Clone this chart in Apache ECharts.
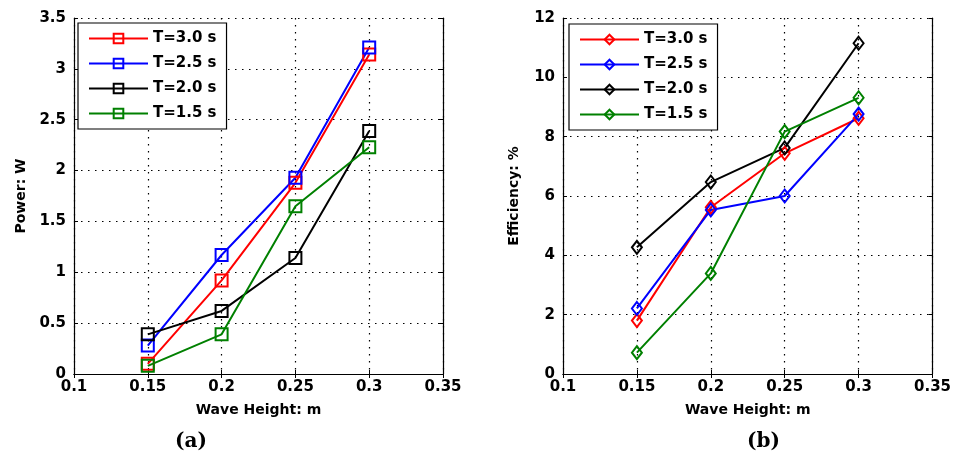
<!DOCTYPE html>
<html>
<head>
<meta charset="utf-8">
<script src="https://cdn.jsdelivr.net/npm/echarts@6/dist/echarts.min.js"></script>
<style>
html,body{margin:0;padding:0;background:#fff;}
#chart{width:954px;height:460px;}
</style>
</head>
<body>
<div id="chart"></div>
<script>
// ---- data ----
var waveHeights = [0.15, 0.2, 0.25, 0.3];
var seriesNames = ['T=3.0 s', 'T=2.5 s', 'T=2.0 s', 'T=1.5 s'];
var powerT30 = [0.10, 0.92, 1.88, 3.14];
var powerT25 = [0.28, 1.17, 1.93, 3.21];
var powerT20 = [0.39, 0.62, 1.14, 2.39];
var powerT15 = [0.08, 0.39, 1.65, 2.23];
var effT30 = [1.80, 5.62, 7.44, 8.62];
var effT25 = [2.21, 5.53, 6.00, 8.76];
var effT20 = [4.27, 6.47, 7.62, 11.15];
var effT15 = [0.72, 3.39, 8.17, 9.31];
var xTicks = [0.1, 0.15, 0.2, 0.25, 0.3, 0.35];
var powerTicks = [0, 0.5, 1, 1.5, 2, 2.5, 3, 3.5];
var effTicks = [0, 2, 4, 6, 8, 10, 12];

var colors = ['#ff0000', '#0000ff', '#000000', '#008000'];
var FONT = 'DejaVu Sans';
var PREFIX_B = 'b|';

function pairs(ys) { return waveHeights.map(function (x, i) { return [x, ys[i]]; }); }
function fmt(v) { return String(parseFloat(v.toFixed(2))); }

function mainX(gi) {
  return {
    type: 'value', gridIndex: gi, position: 'bottom',
    min: xTicks[0], max: xTicks[xTicks.length - 1], interval: 0.05,
    name: 'Wave Height: m', nameLocation: 'middle', nameGap: 29,
    nameTextStyle: { fontFamily: FONT, fontWeight: 'bold', fontSize: 14, color: '#000' },
    axisLine: { show: true, lineStyle: { color: '#000', width: 1.2 } },
    axisTick: { show: true, inside: true, length: 4, lineStyle: { color: '#000' } },
    axisLabel: { fontFamily: FONT, fontWeight: 'bold', fontSize: 15, color: '#000', margin: 6, formatter: fmt },
    splitLine: { show: true, lineStyle: { color: '#000', width: 1.2, type: [1.5, 5.5] } }
  };
}
function topX(gi) {
  return {
    type: 'value', gridIndex: gi, position: 'top',
    min: xTicks[0], max: xTicks[xTicks.length - 1], interval: 0.05,
    axisLine: { show: true, lineStyle: { color: '#000', width: 1.2 } },
    axisTick: { show: true, inside: true, length: 4, lineStyle: { color: '#000' } },
    axisLabel: { show: false }, splitLine: { show: false }
  };
}
function mainY(gi, ticks, interval, name, gap) {
  return {
    type: 'value', gridIndex: gi, position: 'left',
    min: ticks[0], max: ticks[ticks.length - 1], interval: interval,
    name: name, nameLocation: 'middle', nameGap: gap, nameRotate: 90,
    nameTextStyle: { fontFamily: FONT, fontWeight: 'bold', fontSize: 14, color: '#000' },
    axisLine: { show: true, lineStyle: { color: '#000', width: 1.2 } },
    axisTick: { show: true, inside: true, length: 4, lineStyle: { color: '#000' } },
    axisLabel: { fontFamily: FONT, fontWeight: 'bold', fontSize: 15, color: '#000', margin: 8, formatter: fmt },
    splitLine: { show: true, lineStyle: { color: '#000', width: 1.2, type: [1.5, 5.5] } }
  };
}
function rightY(gi, ticks, interval) {
  return {
    type: 'value', gridIndex: gi, position: 'right',
    min: ticks[0], max: ticks[ticks.length - 1], interval: interval,
    axisLine: { show: true, lineStyle: { color: '#000', width: 1.2 } },
    axisTick: { show: true, inside: true, length: 4, lineStyle: { color: '#000' } },
    axisLabel: { show: false }, splitLine: { show: false }
  };
}

function mkSeries(name, ys, ci, xi, yi, symbol, size) {
  return {
    type: 'line', name: name, xAxisIndex: xi, yAxisIndex: yi,
    data: pairs(ys), symbol: symbol, symbolSize: size, showSymbol: true,
    lineStyle: { color: colors[ci], width: 2 },
    itemStyle: { color: 'rgba(255,255,255,0)', borderColor: colors[ci], borderWidth: 2 },
    emphasis: { disabled: true }, animation: false
  };
}

var powerData = [powerT30, powerT25, powerT20, powerT15];
var effData = [effT30, effT25, effT20, effT15];
var series = [];
seriesNames.forEach(function (n, i) { series.push(mkSeries(n, powerData[i], i, 0, 0, 'rect', 12)); });
seriesNames.forEach(function (n, i) { series.push(mkSeries(PREFIX_B + n, effData[i], i, 2, 2, 'diamond', [10, 13])); });

function legendFor(left, top, names) {
  return {
    left: left, top: top, orient: 'vertical',
    data: names,
    itemWidth: 59, itemHeight: 12, itemGap: 8,
    padding: [7, 10, 7, 10],
    borderColor: '#000', borderWidth: 1.2, backgroundColor: '#fff',
    textStyle: { fontFamily: FONT, fontWeight: 'bold', fontSize: 15, color: '#000', lineHeight: 17 },
    selectedMode: false,
    formatter: function (n) { return n.indexOf(PREFIX_B) === 0 ? n.slice(PREFIX_B.length) : n; }
  };
}

var chart = echarts.init(document.getElementById('chart'), null, { renderer: 'canvas' });
var xAxes = [mainX(0), topX(0), mainX(1), topX(1)];
var yAxes = [
  mainY(0, powerTicks, 0.5, 'Power: W', 46),
  rightY(0, powerTicks, 0.5),
  mainY(1, effTicks, 2, 'Efficiency: %', 42),
  rightY(1, effTicks, 2)
];
var option = {
  backgroundColor: '#fff',
  animation: false,
  grid: [
    { left: 74, right: 511, top: 18, bottom: 86, show: false },
    { left: 563, right: 21, top: 18, bottom: 86, show: false }
  ],
  xAxis: xAxes,
  yAxis: yAxes,
  legend: [
    legendFor(78, 23, seriesNames),
    legendFor(569, 24, seriesNames.map(function (n) { return PREFIX_B + n; }))
  ],
  series: series,
  graphic: [
    { type: 'text', left: 175, top: 432, style: { text: '(a)', font: 'bold 20px "DejaVu Serif"', fill: '#000' } },
    { type: 'text', left: 747, top: 432, style: { text: '(b)', font: 'bold 20px "DejaVu Serif"', fill: '#000' } }
  ]
};
chart.setOption(option);
</script>
</body>
</html>
